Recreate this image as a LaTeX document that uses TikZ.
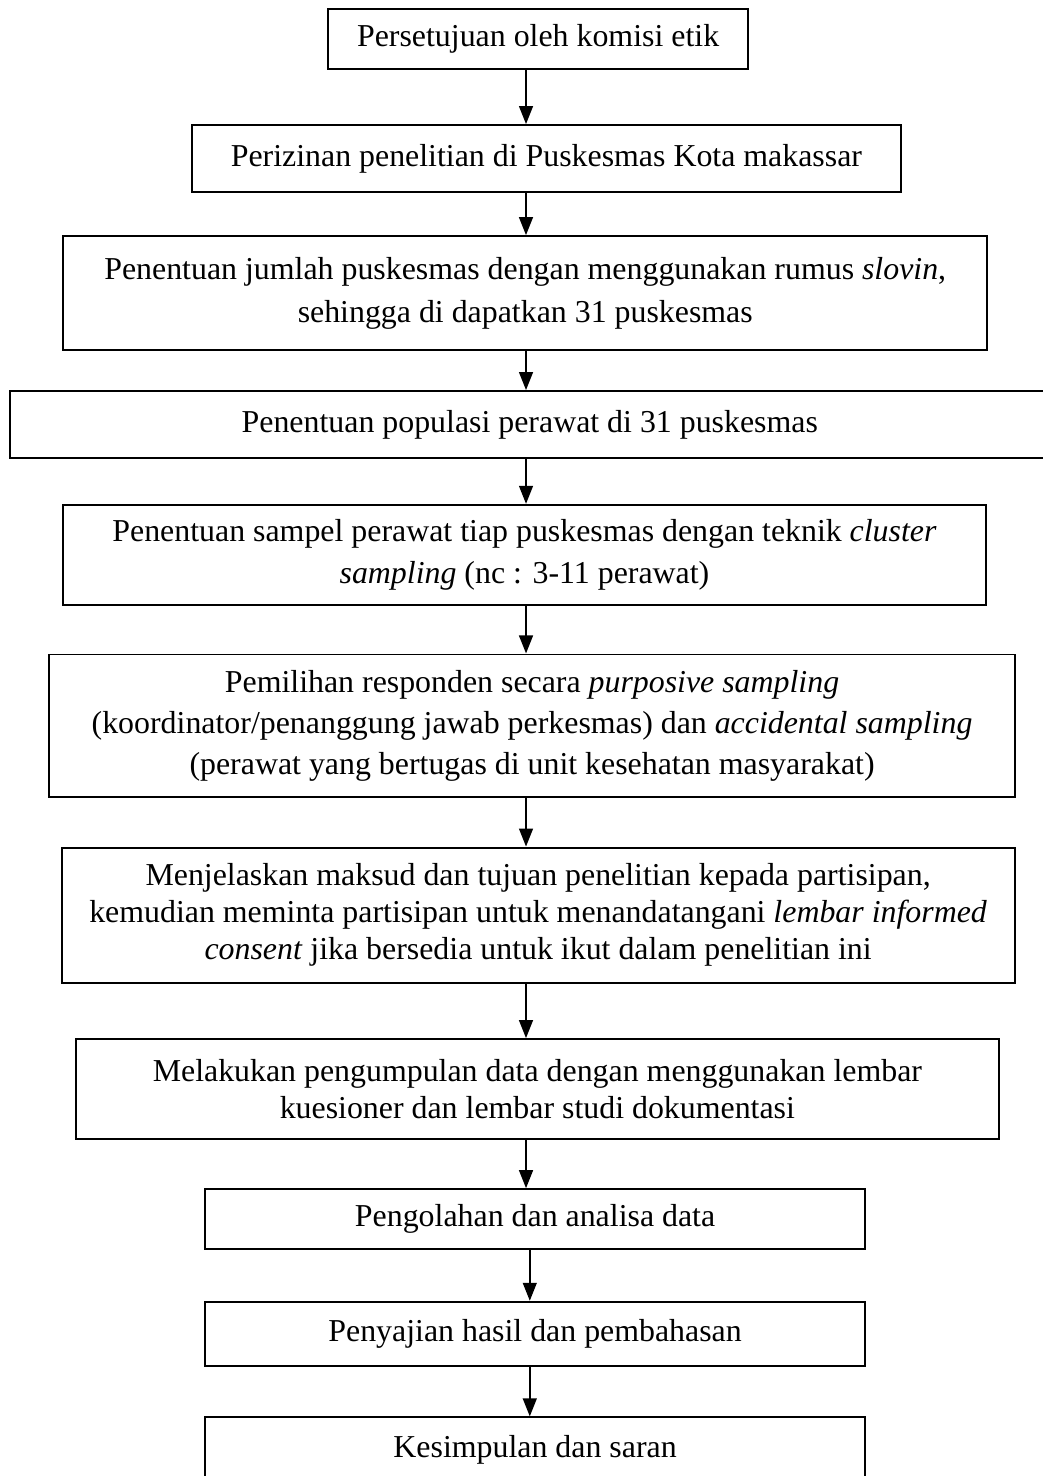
\documentclass[tikz,border=0pt]{standalone}
\usepackage{fontspec}
\setmainfont{Liberation Serif}
\usetikzlibrary{arrows.meta}

\begin{document}
\begin{tikzpicture}[
  >={Triangle[width=5.2pt,length=6.8pt]},
  every node/.style={font=\fontsize{12}{16}\selectfont},
  stepbox/.style={draw, line width=0.75pt, align=center, inner sep=0pt},
  arrow/.style={->, line width=0.75pt}
]

%% Page frame (boxes at the right and bottom run off the page)
\useasboundingbox (0,0) rectangle (13.80,-19.53);
\clip (0,0) rectangle (13.80,-19.53);

\coordinate (spine) at (6.96,0);
\coordinate (spinelow) at (7.01,0);

%% ── ETHICS AND PERMITS ───────────────────────────────────────
\node[stepbox, minimum width=5.56cm, minimum height=0.79cm] (etik)
  at (7.12,-0.52) {Persetujuan oleh komisi etik};

\node[stepbox, minimum width=9.38cm, minimum height=0.89cm] (izin)
  at (7.23,-2.10) {Perizinan penelitian di Puskesmas Kota makassar};

%% ── SAMPLING ─────────────────────────────────────────────────
\node[stepbox, minimum width=12.22cm, minimum height=1.51cm] (jumlah)
  at (6.95,-3.88)
  {Penentuan jumlah puskesmas dengan menggunakan rumus \textit{slovin},\\
   sehingga di dapatkan 31 puskesmas};

\node[stepbox, minimum width=13.76cm, minimum height=0.89cm] (populasi)
  at (7.01,-5.62) {Penentuan populasi perawat di 31 puskesmas};

\node[stepbox, minimum width=12.21cm, minimum height=1.32cm,
      font=\fontsize{12}{15.6}\selectfont] (sampel)
  at (6.94,-7.34)
  {Penentuan sampel perawat tiap puskesmas dengan teknik \textit{cluster}\\
   \textit{sampling} (nc : 3-11 perawat)};

\node[stepbox, minimum width=12.79cm, minimum height=1.88cm,
      font=\fontsize{12}{15.4}\selectfont] (responden)
  at (7.04,-9.60)
  {Pemilihan responden secara \textit{purposive sampling}\\
   (koordinator/penanggung jawab perkesmas) dan \textit{accidental sampling}\\
   (perawat yang bertugas di unit kesehatan masyarakat)};

%% ── DATA COLLECTION ──────────────────────────────────────────
\node[stepbox, minimum width=12.61cm, minimum height=1.79cm,
      font=\fontsize{12}{13.9}\selectfont] (consent)
  at (7.12,-12.11)
  {Menjelaskan maksud dan tujuan penelitian kepada partisipan,\\
   kemudian meminta partisipan untuk menandatangani \textit{lembar informed}\\
   \textit{consent} jika bersedia untuk ikut dalam penelitian ini};

\node[stepbox, minimum width=12.21cm, minimum height=1.32cm,
      font=\fontsize{12}{13.9}\selectfont] (kumpul)
  at (7.11,-14.41)
  {Melakukan pengumpulan data dengan menggunakan lembar\\
   kuesioner dan lembar studi dokumentasi};

%% ── ANALYSIS AND REPORT ──────────────────────────────────────
\node[stepbox, minimum width=8.74cm, minimum height=0.79cm] (olah)
  at (7.08,-16.13) {Pengolahan dan analisa data};

\node[stepbox, minimum width=8.74cm, minimum height=0.85cm] (saji)
  at (7.08,-17.65) {Penyajian hasil dan pembahasan};

\node[stepbox, minimum width=8.74cm, minimum height=0.85cm] (simpul)
  at (7.08,-19.18) {Kesimpulan dan saran};

%% Arrows
\draw[arrow] (etik.south -| spine) -- (izin.north -| spine);
\draw[arrow] (izin.south -| spine) -- (jumlah.north -| spine);
\draw[arrow] (jumlah.south -| spine) -- (populasi.north -| spine);
\draw[arrow] (populasi.south -| spine) -- (sampel.north -| spine);
\draw[arrow] (sampel.south -| spine) -- (responden.north -| spine);
\draw[arrow] (responden.south -| spine) -- (consent.north -| spine);
\draw[arrow] (consent.south -| spine) -- (kumpul.north -| spine);
\draw[arrow] (kumpul.south -| spine) -- (olah.north -| spine);
\draw[arrow] (olah.south -| spinelow) -- (saji.north -| spinelow);
\draw[arrow] (saji.south -| spinelow) -- (simpul.north -| spinelow);

\end{tikzpicture}
\end{document}
